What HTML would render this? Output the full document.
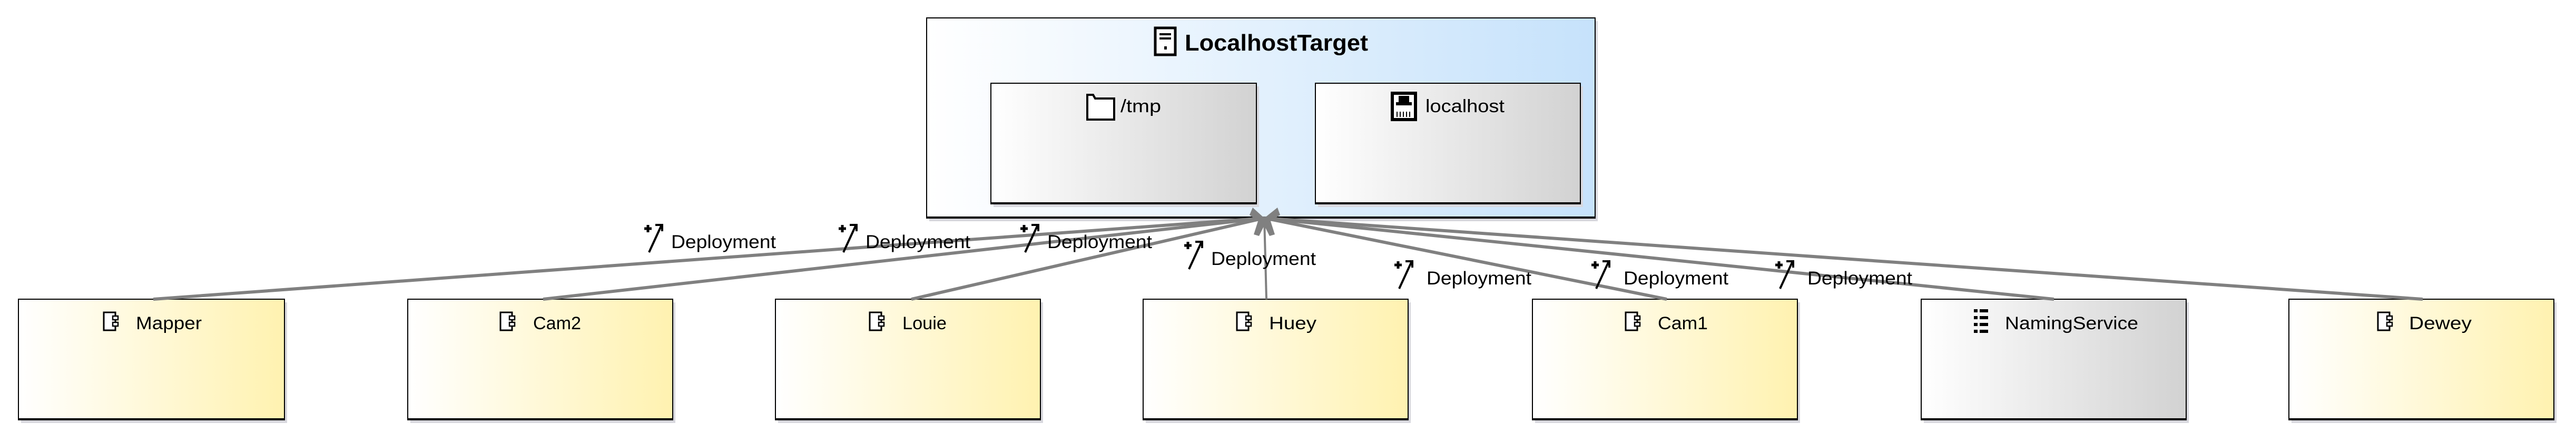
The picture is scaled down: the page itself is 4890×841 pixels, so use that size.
<!DOCTYPE html>
<html><head><meta charset="utf-8"><style>
html,body{margin:0;padding:0;background:#fff;}
svg{display:block;}
text{font-family:"Liberation Sans",sans-serif;fill:#000;}
</style></head><body>
<svg width="4890" height="841" viewBox="0 0 4890 841" xmlns="http://www.w3.org/2000/svg">
<defs>
<linearGradient id="gy" x1="0" x2="1" y1="0" y2="0"><stop offset="0" stop-color="#ffffff"/><stop offset="1" stop-color="#fff2b0"/></linearGradient>
<linearGradient id="gb" x1="0" x2="1" y1="0" y2="0"><stop offset="0" stop-color="#ffffff"/><stop offset="1" stop-color="#c6e2fb"/></linearGradient>
<linearGradient id="gg" x1="0" x2="1" y1="0" y2="0"><stop offset="0" stop-color="#ffffff"/><stop offset="1" stop-color="#d2d2d2"/></linearGradient>
<g id="comp"><rect x="0" y="0" width="22" height="34" fill="#fff" stroke="#000" stroke-width="3"/><rect x="17" y="7" width="10" height="7" fill="#fff" stroke="#000" stroke-width="2.5"/><rect x="17" y="19" width="10" height="7" fill="#fff" stroke="#000" stroke-width="2.5"/></g>
<g id="dep"><path d="M4 -44 v14 M-3 -37 h14" stroke="#000" stroke-width="5"/><path d="M6 8 L30 -44 M18 -44 h13 v12" stroke="#000" stroke-width="4" fill="none"/></g>
</defs>

<!-- target -->
<rect x="1764" y="40" width="1269" height="380" fill="#d8d8de"/>
<rect x="1759" y="34" width="1269" height="380" fill="url(#gb)" stroke="#000" stroke-width="2"/>
<line x1="1759" y1="413" x2="3028" y2="413" stroke="#000" stroke-width="4"/>
<rect x="2193" y="53" width="38" height="51" fill="#fff" stroke="#000" stroke-width="5"/>
<rect x="2201" y="63" width="22" height="4" fill="#000"/><rect x="2201" y="71" width="22" height="4" fill="#000"/><rect x="2210" y="88" width="5" height="6" fill="#000"/>
<text x="2249" y="96" font-size="44" font-weight="bold" textLength="348" lengthAdjust="spacingAndGlyphs">LocalhostTarget</text>

<rect x="1886" y="164" width="504" height="229" fill="#d8d8de"/>
<rect x="1881" y="158" width="504" height="229" fill="url(#gg)" stroke="#000" stroke-width="2"/>
<line x1="1881" y1="386" x2="2385" y2="386" stroke="#000" stroke-width="4"/>
<path d="M2064 180 h11 l4 7 h36 v40 h-51 z" fill="#fff" stroke="#000" stroke-width="4"/>
<text x="2127" y="213" font-size="34" textLength="77" lengthAdjust="spacingAndGlyphs">/tmp</text>

<rect x="2502" y="164" width="503" height="229" fill="#d8d8de"/>
<rect x="2497" y="158" width="503" height="229" fill="url(#gg)" stroke="#000" stroke-width="2"/>
<line x1="2497" y1="386" x2="3000" y2="386" stroke="#000" stroke-width="4"/>
<rect x="2643" y="177" width="44" height="50" fill="#fff" stroke="#000" stroke-width="6"/>
<rect x="2655" y="182" width="20" height="12" fill="#000"/><rect x="2650" y="194" width="30" height="6" fill="#000"/>
<g stroke="#000" stroke-width="2"><line x1="2652" y1="212" x2="2652" y2="222"/><line x1="2658" y1="212" x2="2658" y2="222"/><line x1="2664" y1="212" x2="2664" y2="222"/><line x1="2670" y1="212" x2="2670" y2="222"/><line x1="2676" y1="212" x2="2676" y2="222"/></g>
<text x="2706" y="213" font-size="34" textLength="150" lengthAdjust="spacingAndGlyphs">localhost</text>

<!-- component boxes -->
<g>
<rect x="40" y="574" width="505" height="229" fill="#d8d8de"/><rect x="35" y="568" width="505" height="229" fill="url(#gy)" stroke="#000" stroke-width="2"/><line x1="35" y1="796" x2="540" y2="796" stroke="#000" stroke-width="4"/>
<use href="#comp" x="197" y="593"/><text x="258" y="625" font-size="34" textLength="125" lengthAdjust="spacingAndGlyphs">Mapper</text>

<rect x="779" y="574" width="503" height="229" fill="#d8d8de"/><rect x="774" y="568" width="503" height="229" fill="url(#gy)" stroke="#000" stroke-width="2"/><line x1="774" y1="796" x2="1277" y2="796" stroke="#000" stroke-width="4"/>
<use href="#comp" x="950" y="593"/><text x="1012" y="625" font-size="34" textLength="91" lengthAdjust="spacingAndGlyphs">Cam2</text>

<rect x="1477" y="574" width="503" height="229" fill="#d8d8de"/><rect x="1472" y="568" width="503" height="229" fill="url(#gy)" stroke="#000" stroke-width="2"/><line x1="1472" y1="796" x2="1975" y2="796" stroke="#000" stroke-width="4"/>
<use href="#comp" x="1651" y="593"/><text x="1713" y="625" font-size="34" textLength="84" lengthAdjust="spacingAndGlyphs">Louie</text>

<rect x="2175" y="574" width="503" height="229" fill="#d8d8de"/><rect x="2170" y="568" width="503" height="229" fill="url(#gy)" stroke="#000" stroke-width="2"/><line x1="2170" y1="796" x2="2673" y2="796" stroke="#000" stroke-width="4"/>
<use href="#comp" x="2348" y="593"/><text x="2409" y="625" font-size="34" textLength="90" lengthAdjust="spacingAndGlyphs">Huey</text>

<rect x="2914" y="574" width="503" height="229" fill="#d8d8de"/><rect x="2909" y="568" width="503" height="229" fill="url(#gy)" stroke="#000" stroke-width="2"/><line x1="2909" y1="796" x2="3412" y2="796" stroke="#000" stroke-width="4"/>
<use href="#comp" x="3086" y="593"/><text x="3147" y="625" font-size="34" textLength="95" lengthAdjust="spacingAndGlyphs">Cam1</text>

<rect x="3652" y="574" width="503" height="229" fill="#d8d8de"/><rect x="3647" y="568" width="503" height="229" fill="url(#gg)" stroke="#000" stroke-width="2"/><line x1="3647" y1="796" x2="4150" y2="796" stroke="#000" stroke-width="4"/>
<g fill="#000"><rect x="3747" y="587" width="7" height="6"/><rect x="3758" y="587" width="16" height="6"/><rect x="3747" y="600" width="7" height="6"/><rect x="3758" y="600" width="16" height="6"/><rect x="3747" y="613" width="7" height="6"/><rect x="3758" y="613" width="16" height="6"/><rect x="3747" y="626" width="7" height="6"/><rect x="3758" y="626" width="16" height="6"/></g>
<text x="3806" y="625" font-size="34" textLength="253" lengthAdjust="spacingAndGlyphs">NamingService</text>

<rect x="4350" y="574" width="503" height="229" fill="#d8d8de"/><rect x="4345" y="568" width="503" height="229" fill="url(#gy)" stroke="#000" stroke-width="2"/><line x1="4345" y1="796" x2="4848" y2="796" stroke="#000" stroke-width="4"/>
<use href="#comp" x="4514" y="593"/><text x="4573" y="625" font-size="34" textLength="119" lengthAdjust="spacingAndGlyphs">Dewey</text>
</g>

<!-- connectors -->
<g stroke="#808080" stroke-width="6" fill="none">
<line x1="291" y1="568" x2="2400" y2="414"/>
<line x1="1031" y1="568" x2="2400" y2="414"/>
<line x1="1730" y1="568" x2="2400" y2="414"/>
<line x1="2404" y1="568" x2="2400" y2="414" stroke-width="4"/>
<line x1="3164" y1="568" x2="2400" y2="414"/>
<line x1="3899" y1="568" x2="2400" y2="414"/>
<line x1="4599" y1="568" x2="2400" y2="414"/>
</g>
<path d="M2378 394 L2400 414 L2425 394 L2430 408 L2412 420 L2420 445 L2410 448 L2400 428 L2390 448 L2380 445 L2388 420 L2372 408 Z" fill="#808080"/>

<!-- labels -->
<use href="#dep" x="1226" y="471"/><text x="1274" y="471" font-size="35" textLength="199" lengthAdjust="spacingAndGlyphs">Deployment</text>
<use href="#dep" x="1595" y="471"/><text x="1643" y="471" font-size="35" textLength="199" lengthAdjust="spacingAndGlyphs">Deployment</text>
<use href="#dep" x="1940" y="471"/><text x="1988" y="471" font-size="35" textLength="199" lengthAdjust="spacingAndGlyphs">Deployment</text>
<use href="#dep" x="2251" y="503"/><text x="2299" y="503" font-size="35" textLength="199" lengthAdjust="spacingAndGlyphs">Deployment</text>
<use href="#dep" x="2650" y="540"/><text x="2708" y="540" font-size="35" textLength="199" lengthAdjust="spacingAndGlyphs">Deployment</text>
<use href="#dep" x="3024" y="540"/><text x="3082" y="540" font-size="35" textLength="199" lengthAdjust="spacingAndGlyphs">Deployment</text>
<use href="#dep" x="3373" y="540"/><text x="3431" y="540" font-size="35" textLength="199" lengthAdjust="spacingAndGlyphs">Deployment</text>
</svg>
</body></html>
